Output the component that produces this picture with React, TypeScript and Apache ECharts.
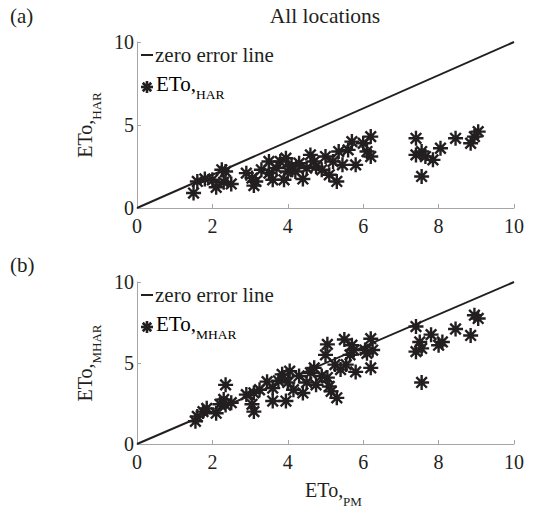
import React, { useEffect, useRef } from "react";
import * as echarts from "echarts";

const xTicks = [0, 2, 4, 6, 8, 10];
const yTicks = [0, 5, 10];
const lineX = [0, 10];

const pmA = [1.5, 1.6, 1.8, 2.0, 2.1, 2.25, 2.3, 2.5, 2.35, 2.9, 3.05, 3.1, 3.15, 3.3, 3.5, 3.5, 3.6, 3.7, 3.8, 3.9, 3.95, 4.0, 4.1, 4.2, 4.3, 4.4, 4.5, 4.6, 4.7, 4.75, 4.9, 5.0, 5.1, 5.2, 5.3, 5.35, 5.45, 5.6, 5.7, 5.8, 6.0, 6.1, 6.2, 6.2, 7.4, 7.4, 7.55, 7.55, 7.65, 7.85, 8.05, 8.45, 8.85, 8.95, 9.05];
const harA = [0.9, 1.6, 1.75, 1.7, 1.25, 2.3, 1.55, 1.45, 2.2, 2.1, 1.8, 1.35, 1.6, 2.3, 2.8, 2.1, 1.7, 2.4, 2.8, 1.7, 3.0, 2.2, 2.5, 2.2, 2.7, 1.75, 2.4, 3.2, 2.8, 2.5, 2.3, 3.1, 2.0, 2.8, 1.6, 3.4, 2.6, 3.5, 4.0, 2.6, 3.9, 3.4, 4.3, 3.1, 4.2, 3.2, 3.4, 1.9, 3.1, 2.9, 3.6, 4.2, 3.9, 4.3, 4.6];

const pmB = [1.55, 1.6, 1.75, 1.85, 2.1, 2.2, 2.3, 2.35, 2.35, 2.5, 2.9, 3.05, 3.1, 3.1, 3.25, 3.45, 3.6, 3.6, 3.75, 3.85, 3.95, 4.0, 4.05, 4.15, 4.3, 4.4, 4.5, 4.6, 4.7, 4.75, 4.9, 5.0, 5.05, 5.1, 5.15, 5.3, 5.25, 5.05, 5.5, 5.7, 5.75, 5.65, 5.55, 5.4, 5.8, 6.05, 6.1, 6.2, 6.2, 6.25, 7.4, 7.4, 7.5, 7.55, 7.55, 7.8, 8.0, 8.1, 8.45, 8.85, 8.95, 9.05];
const mharB = [1.4, 1.7, 2.0, 2.2, 1.9, 2.45, 2.75, 3.65, 2.4, 2.55, 3.05, 2.45, 2.0, 3.15, 3.35, 3.85, 2.65, 3.45, 3.9, 4.3, 2.65, 3.8, 4.5, 3.35, 4.2, 3.15, 3.8, 4.4, 4.7, 3.65, 4.2, 5.5, 4.1, 3.55, 3.25, 2.85, 4.9, 6.15, 6.45, 6.1, 5.8, 5.5, 4.9, 4.6, 4.45, 5.8, 5.6, 6.5, 4.7, 5.8, 7.25, 5.7, 6.3, 5.9, 3.8, 6.75, 6.1, 6.3, 7.1, 6.7, 7.95, 7.75];

const FONT = "Liberation Serif";
const INK = "#231f20";
const AXIS = "#a6a6a6";

const ASTERISK =
  "path://M0 8.4L20 8.4L20 11.6L0 11.6Z" +
  "M8.4 0L11.6 0L11.6 20L8.4 20Z" +
  "M4.06 1.80L18.20 15.94L15.94 18.20L1.80 4.06Z" +
  "M4.06 18.20L1.80 15.94L15.94 1.80L18.20 4.06Z";

const rich = {
  m: { fontFamily: FONT, fontSize: 20, color: INK, lineHeight: 28, verticalAlign: "top" },
  s: { fontFamily: FONT, fontSize: 13, color: INK, lineHeight: 14, verticalAlign: "bottom" },
};
const richLegend = {
  m: { fontFamily: FONT, fontSize: 21, color: INK, lineHeight: 28, verticalAlign: "top" },
  s: { fontFamily: FONT, fontSize: 13.5, color: INK, lineHeight: 14, verticalAlign: "bottom" },
};

function xAxis(gridIndex: number) {
  return {
    type: "value",
    gridIndex,
    min: 0,
    max: 10,
    interval: 2,
    axisLine: { show: true, lineStyle: { color: AXIS, width: 1 } },
    axisTick: { show: true, inside: true, length: 4, lineStyle: { color: AXIS } },
    axisLabel: { fontFamily: FONT, fontSize: 20, color: INK, margin: 8 },
    splitLine: { show: false },
  };
}

function yAxis(gridIndex: number, name: string) {
  return {
    type: "value",
    gridIndex,
    min: 0,
    max: 10,
    interval: 5,
    name,
    nameLocation: "middle",
    nameRotate: 90,
    nameGap: 13,
    nameTextStyle: { rich },
    axisLine: { show: true, lineStyle: { color: AXIS, width: 1 } },
    axisTick: { show: true, inside: true, length: 4, lineStyle: { color: AXIS } },
    axisLabel: { fontFamily: FONT, fontSize: 20, color: INK, margin: 3 },
    splitLine: { show: false },
  };
}

function legendGraphic(top: number, sub: string) {
  const cx = 147;
  const cy = top + 32;
  const r = 6;
  const spokes = [0, 45, 90, 135].map((deg) => {
    const a = (deg * Math.PI) / 180;
    return {
      type: "line",
      shape: { x1: cx - r * Math.cos(a), y1: cy - r * Math.sin(a), x2: cx + r * Math.cos(a), y2: cy + r * Math.sin(a) },
      style: { stroke: INK, lineWidth: 2.6 },
    };
  });
  return [
    { type: "line", shape: { x1: 141, y1: top, x2: 153, y2: top }, style: { stroke: INK, lineWidth: 2 } },
    {
      type: "text",
      x: 155,
      y: top,
      style: { text: "zero error line", font: `21px "${FONT}"`, fill: INK, verticalAlign: "middle" },
    },
    ...spokes,
    {
      type: "text",
      x: 156,
      y: cy - 14,
      style: { text: `{m|ETo,}{s|${sub}}`, rich: richLegend, verticalAlign: "top" },
    },
  ];
}

export default function App() {
  const ref = useRef<HTMLDivElement>(null);
  useEffect(() => {
    if (!ref.current) return;
    const chart = echarts.init(ref.current, undefined, { renderer: "svg" });
    const scatterStyle = { color: INK, opacity: 1 };
    chart.setOption({
      animation: false,
      backgroundColor: "#ffffff",
      grid: [
        { left: 137, top: 42, width: 377, height: 166 },
        { left: 137, top: 282, width: 377, height: 163 },
      ],
      xAxis: [
        xAxis(0),
        {
          ...xAxis(1),
          name: "{m|ETo,}{s|PM}",
          nameLocation: "middle",
          nameGap: 36,
          nameTextStyle: { rich, padding: [0, 0, 0, 16] },
        },
      ],
      yAxis: [yAxis(0, "{m|ETo,}{s|HAR}"), yAxis(1, "{m|ETo,}{s|MHAR}")],
      series: [
        {
          type: "line",
          name: "zero error line",
          xAxisIndex: 0,
          yAxisIndex: 0,
          data: lineX.map((v) => [v, v]),
          symbol: "none",
          lineStyle: { color: INK, width: 2 },
        },
        {
          type: "scatter",
          name: "ETo,HAR",
          xAxisIndex: 0,
          yAxisIndex: 0,
          data: pmA.map((v, i) => [v, harA[i]]),
          symbol: ASTERISK,
          symbolSize: 15,
          itemStyle: scatterStyle,
        },
        {
          type: "line",
          name: "zero error line",
          xAxisIndex: 1,
          yAxisIndex: 1,
          data: lineX.map((v) => [v, v]),
          symbol: "none",
          lineStyle: { color: INK, width: 2 },
        },
        {
          type: "scatter",
          name: "ETo,MHAR",
          xAxisIndex: 1,
          yAxisIndex: 1,
          data: pmB.map((v, i) => [v, mharB[i]]),
          symbol: ASTERISK,
          symbolSize: 15,
          itemStyle: scatterStyle,
        },
      ],
      graphic: [
        { type: "text", x: 10, y: 5, style: { text: "(a)", font: `21px "${FONT}"`, fill: INK } },
        { type: "text", x: 10, y: 254, style: { text: "(b)", font: `21px "${FONT}"`, fill: INK } },
        {
          type: "text",
          x: 325,
          y: 5,
          style: { text: "All locations", font: `21.5px "${FONT}"`, fill: INK, align: "center" },
        },
        ...legendGraphic(55, "HAR"),
        ...legendGraphic(295, "MHAR"),
      ],
    });
    return () => chart.dispose();
  }, []);
  return (
    <div
      ref={ref}
      style={{ position: "absolute", left: 0, top: 0, width: 541, height: 509 }}
    />
  );
}
